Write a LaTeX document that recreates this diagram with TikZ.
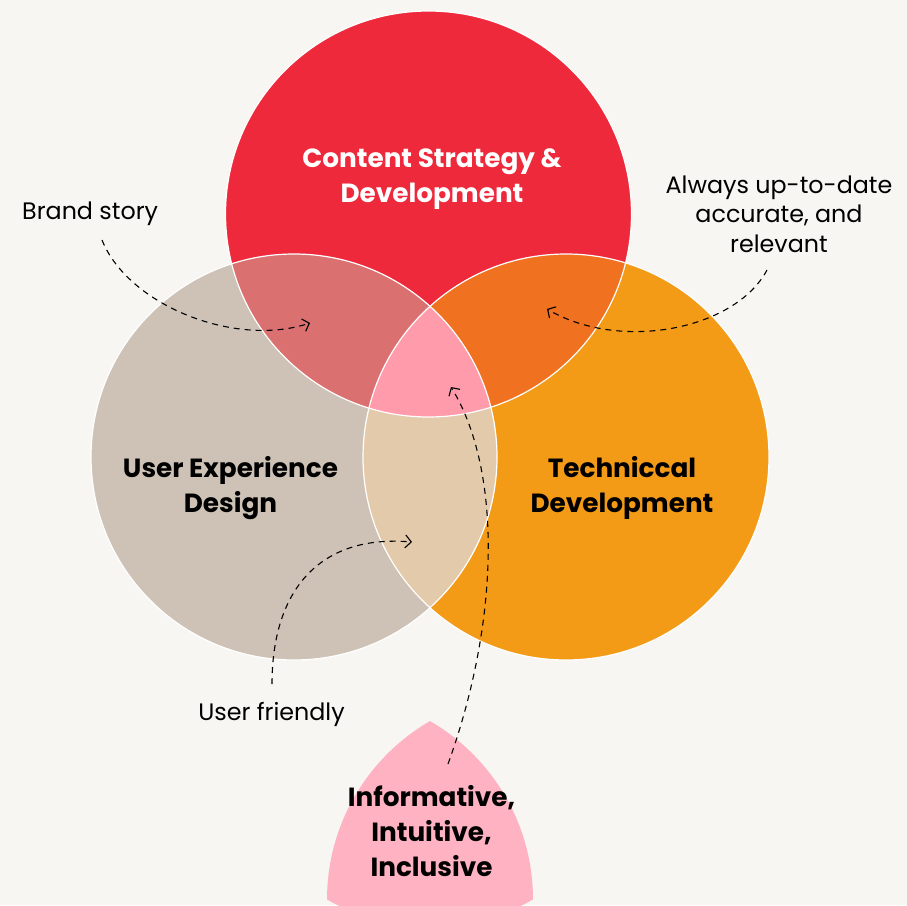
\documentclass[tikz,border=0pt]{standalone}
\usepackage{fontspec}
\setmainfont{Poppins}
\usetikzlibrary{arrows.meta}

\definecolor{paper}{HTML}{F8F6F2}
\definecolor{cred}{HTML}{EE293B}
\definecolor{cbeige}{HTML}{CDC2B5}
\definecolor{corange}{HTML}{F39A17}
\definecolor{credbeige}{HTML}{DB7070}
\definecolor{credorange}{HTML}{F07120}
\definecolor{cbeigeorange}{HTML}{E3CAAB}
\definecolor{ccenter}{HTML}{FF9BAA}
\definecolor{cpetal}{HTML}{FFB3C2}

\newcommand\headfont{\fontsize{26.3}{35}\selectfont\bfseries}
\newcommand\notefont{\fontsize{23.8}{29.5}\selectfont}

\tikzset{
  title/.style={align=center, inner sep=0pt, font=\headfont},
  note/.style={align=center, inner sep=0pt, font=\notefont, text=black},
  pointer/.style={draw=black, line width=1.1pt, dash pattern=on 6pt off 5pt,
    -{Straight Barb[length=6pt,width=13pt,line width=1.1pt]}},
  rim/.style={draw=white, line width=1.2pt}
}

\begin{document}
\begin{tikzpicture}[x=1pt,y=-1pt]
  % canvas
  \fill[paper] (0,0) rectangle (907,905);
  \useasboundingbox (0,0) rectangle (907,905);

  % circle centres
  \coordinate (T) at (428.5,214);
  \coordinate (L) at (294,457);
  \coordinate (R) at (566,457);
  \def\rad{203}

  % base circles
  \fill[cred]    (T) circle[radius=\rad];
  \fill[cbeige]  (L) circle[radius=\rad];
  \fill[corange] (R) circle[radius=\rad];

  % pairwise overlaps
  \begin{scope}
    \clip (T) circle[radius=\rad];
    \fill[credbeige] (L) circle[radius=\rad];
  \end{scope}
  \begin{scope}
    \clip (T) circle[radius=\rad];
    \fill[credorange] (R) circle[radius=\rad];
  \end{scope}
  \begin{scope}
    \clip (L) circle[radius=\rad];
    \fill[cbeigeorange] (R) circle[radius=\rad];
  \end{scope}
  % common core
  \begin{scope}
    \clip (T) circle[radius=\rad];
    \clip (L) circle[radius=\rad];
    \fill[ccenter] (R) circle[radius=\rad];
  \end{scope}

  % white outlines
  \draw[rim] (T) circle[radius=\rad];
  \draw[rim] (L) circle[radius=\rad];
  \draw[rim] (R) circle[radius=\rad];

  % Reuleaux petal at the bottom
  \coordinate (PA) at (430,721);
  \coordinate (PB) at (327,899.5);
  \coordinate (PC) at (533,899.5);
  \begin{scope}
    \clip (0,0) rectangle (907,905);
    \clip (PA) circle[radius=206];
    \clip (PB) circle[radius=206];
    \fill[cpetal] (PC) circle[radius=206];
  \end{scope}

  % titles
  \node[title, text=white] (content) at (432,179) {Content Strategy \&\\Development};
  \node[title] (ux) at (230.5,488) {User Experience\\Design};
  \node[title] (tech) at (622,488) {Techniccal\\Development};
  \node[title] (core) at (431.5,831) {Informative,\\Intuitive,\\Inclusive};

  % notes
  \node[note, anchor=base west] (brand) at (22,219) {Brand story};
  \node[note] (always) at (779,214) {Always up-to-date\\accurate, and\\relevant};
  \node[note, anchor=base] (friendly) at (271.5,720) {User friendly};

  % pointer ends
  \coordinate (brandS) at (102,240);
  \coordinate (brandE) at (310,323);
  \coordinate (alwaysS) at (767,270);
  \coordinate (alwaysE) at (547,309);
  \coordinate (friendS) at (272,684);
  \coordinate (friendE) at (412,542);
  \coordinate (coreS) at (448,764);
  \coordinate (coreE) at (451,387);

  % dashed pointers
  \draw[pointer] (brandS) .. controls (128,305) and (235,348) .. (brandE);
  \draw[pointer] (alwaysS) .. controls (735,330) and (620,352) .. (alwaysE);
  \draw[pointer] (friendS) .. controls (272,592) and (318,534) .. (friendE);
  \draw[pointer] (coreS) .. controls (500,620) and (502,470) .. (coreE);
\end{tikzpicture}
\end{document}
